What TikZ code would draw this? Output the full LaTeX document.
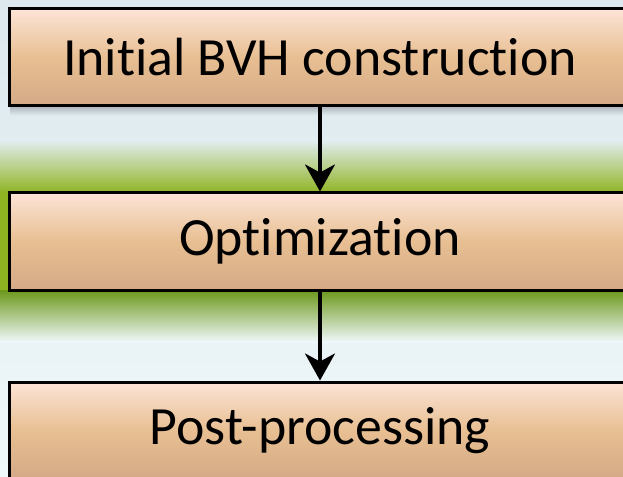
\documentclass[tikz,border=0pt]{standalone}
\usepackage{fontspec}
\setmainfont{Carlito}[Ligatures={NoCommon}]
\usetikzlibrary{arrows.meta}

\definecolor{bgtop}{HTML}{DCE8EE}
\definecolor{bgbot}{HTML}{EFF8FA}
\definecolor{glow}{HTML}{8FB422}
\definecolor{glowmid}{HTML}{B4D270}
\definecolor{glowdark}{HTML}{6C981A}
\definecolor{glowfade}{HTML}{A4C850}
\definecolor{boxtop}{HTML}{FCE4D6}
\definecolor{boxmid}{HTML}{E8BF92}
\definecolor{boxbot}{HTML}{D4A987}
\definecolor{shadowgray}{HTML}{A9B3B9}

\tikzset{
  stepbox/.style={draw=black, line width=3bp, minimum width=620bp,
    minimum height=97bp, inner sep=0pt,
    top color=boxtop, bottom color=boxbot, middle color=boxmid,
    font=\fontsize{54}{64}\selectfont},
  flow/.style={draw=black, line width=3.3bp,
    -{Stealth[length=27bp,width=30bp,inset=8bp]}}
}

\begin{document}
\begin{tikzpicture}[x=1bp,y=1bp]
  \useasboundingbox (0,0) rectangle (623,-477);
  \clip (0,0) rectangle (623,-477);

  % page background
  \shade[top color=bgtop, bottom color=bgbot] (0,0) rectangle (623,-477);

  % green glow behind the middle stage
  \shade[top color=bgtop!70!bgbot, middle color=glowmid, bottom color=glow]
    (0,-140) rectangle (623,-193);
  \shade[top color=glowdark, middle color=glowfade, bottom color=bgbot]
    (0,-290) rectangle (623,-342);
  \fill[glow] (0,-193) rectangle (12,-290);

  % soft shadow under the first stage
  \shade[top color=shadowgray, bottom color=bgtop!50!bgbot]
    (10,-106) rectangle (630,-116);

  % stages
  \node[stepbox] (b1) at (320,-57.5)  {Initial BVH construction};
  \node[stepbox] (b2) at (320,-241.5) {Optimization};
  \node[stepbox] (b3) at (320,-430.5) {Post-processing};

  % connectors
  \draw[flow] (b1) -- (b2);
  \draw[flow] (b2) -- (b3);
\end{tikzpicture}
\end{document}
